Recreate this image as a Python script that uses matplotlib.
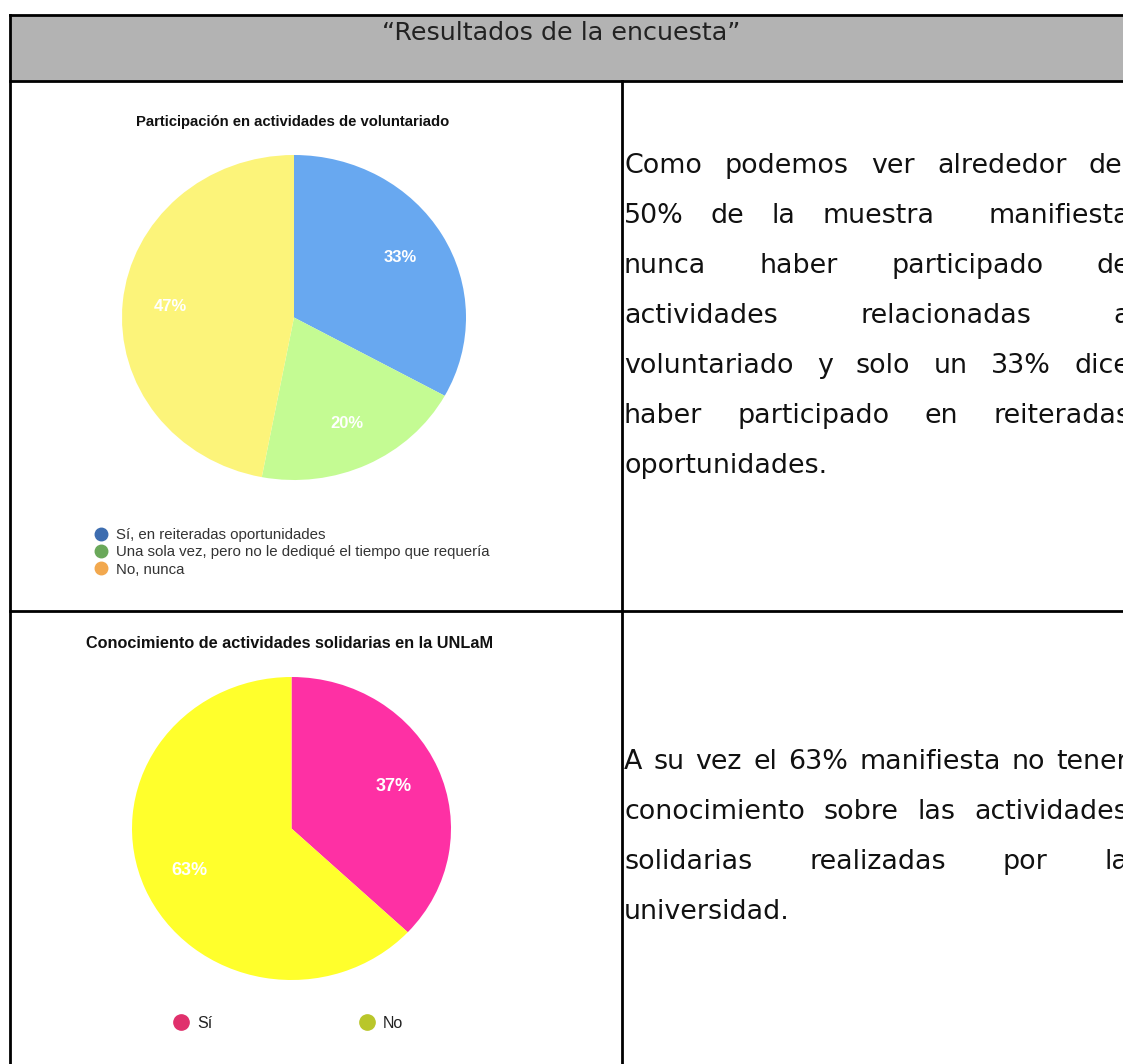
import matplotlib.pyplot as plt
from matplotlib.lines import Line2D

W, H = 1123, 1064

HEADER = "\u201cResultados de la encuesta\u201d"

# chart 1
PIE1_TITLE = "Participación en actividades de voluntariado"
PIE1_LABELS = ["Sí, en reiteradas oportunidades",
               "Una sola vez, pero no le dediqué el tiempo que requería",
               "No, nunca"]
PIE1_VALUES = [33, 20, 47]

# chart 2
PIE2_TITLE = "Conocimiento de actividades solidarias en la UNLaM"
PIE2_LABELS = ["Sí", "No"]
PIE2_VALUES = [37, 63]

TEXT1 = ["Como podemos ver alrededor del",
         "50% de la muestra  manifiesta",
         "nunca haber participado de",
         "actividades relacionadas a",
         "voluntariado y solo un 33% dice",
         "haber participado en reiteradas",
         "oportunidades."]
TEXT2 = ["A su vez el 63% manifiesta no tener",
         "conocimiento sobre las actividades",
         "solidarias realizadas por la",
         "universidad."]

PIE1_COLORS = ["#68a8f0", "#c4fb93", "#fcf47a"]
PIE1_LEG_COLORS = ["#3d6db0", "#6aa85a", "#f2a84e"]
PIE2_COLORS = ["#fe30a4", "#ffff2c"]
PIE2_LEG_COLORS = ["#e0306c", "#b9c62a"]

SANS = ["Liberation Sans", "DejaVu Sans"]


def pie_axes(fig, x0, y0, x1, y1):
    return fig.add_axes([x0 / W, 1 - y1 / H, (x1 - x0) / W, (y1 - y0) / H])


def justify(ax, renderer, lines, first_base, x0, x1, gap=50, size=19.4):
    for i, line in enumerate(lines):
        y = first_base + i * gap
        if i == len(lines) - 1:
            ax.text(x0, y, line, fontsize=size, va="baseline", ha="left",
                    color="#111111")
            continue
        words = line.split(" ")
        widths = []
        for w in words:
            if w == "":
                widths.append(0)
                continue
            t = ax.text(0, 0, w, fontsize=size)
            widths.append(t.get_window_extent(renderer).width)
            t.remove()
        space = (x1 - x0 - sum(widths)) / (len(words) - 1)
        x = x0
        for w, wd in zip(words, widths):
            if w:
                ax.text(x, y, w, fontsize=size, va="baseline", ha="left",
                        color="#111111")
            x += wd + space


fig = plt.figure(figsize=(W / 100, H / 100), dpi=100)
ax = fig.add_axes([0, 0, 1, 1])
ax.set_xlim(0, W)
ax.set_ylim(H, 0)
ax.axis("off")

# table
ax.fill_between([9.5, W + 10], 14.5, 81, color="#b3b3b3", lw=0)
lw = 2.0
ax.plot([9.5, W + 10], [14.5, 14.5], color="black", lw=lw, solid_capstyle="projecting")
ax.plot([9.5, W + 10], [81, 81], color="black", lw=lw)
ax.plot([9.5, W + 10], [611, 611], color="black", lw=lw)
ax.plot([9.5, 9.5], [14.5, H + 5], color="black", lw=lw, solid_capstyle="projecting")
ax.plot([622, 622], [81, H + 5], color="black", lw=lw)

ax.text(561, 33, HEADER, fontsize=18.3, ha="center", va="center", color="#222222")

renderer = fig.canvas.get_renderer()
justify(ax, renderer, TEXT1, 173, 624, 1130)
justify(ax, renderer, TEXT2, 769, 624, 1128)

# pie 1
ax.text(293, 122, PIE1_TITLE, fontsize=10.7, fontweight="bold", family=SANS,
        ha="center", va="center", color="#111111")
p1 = pie_axes(fig, 122, 155, 466, 480)
p1.pie(PIE1_VALUES, colors=PIE1_COLORS, startangle=90, counterclock=False,
       autopct="%d%%", pctdistance=0.72,
       textprops=dict(color="white", fontsize=12, fontweight="bold", family=SANS))
p1.set_aspect("auto")
p1.set_xlim(-1, 1)
p1.set_ylim(-1, 1)
h1 = [Line2D([], [], marker="o", ls="", markersize=9, color=c) for c in PIE1_LEG_COLORS]
ax.legend(h1, PIE1_LABELS, loc="upper left", bbox_to_anchor=(93 / W, 1 - 528 / H),
          frameon=False, labelspacing=0.22, handlelength=1.0,
          handletextpad=0.5, borderpad=0, borderaxespad=0,
          prop=dict(family=SANS, size=10.8), labelcolor="#333333")

# pie 2
ax.text(290, 643, PIE2_TITLE, fontsize=11.7, fontweight="bold", family=SANS,
        ha="center", va="center", color="#111111")
p2 = pie_axes(fig, 132, 677, 451, 980)
p2.pie(PIE2_VALUES, colors=PIE2_COLORS, startangle=90, counterclock=False,
       autopct="%d%%", pctdistance=0.7,
       textprops=dict(color="white", fontsize=13, fontweight="bold", family=SANS))
p2.set_aspect("auto")
p2.set_xlim(-1, 1)
p2.set_ylim(-1, 1)
h2 = [Line2D([], [], marker="o", ls="", markersize=11, color=c) for c in PIE2_LEG_COLORS]
fig.legend(h2, PIE2_LABELS, loc="upper left", bbox_to_anchor=(173 / W, 1 - 1016 / H),
           frameon=False, ncol=2, handlelength=1.0, handletextpad=0.5,
           columnspacing=9.2, borderpad=0, borderaxespad=0,
           prop=dict(family=SANS, size=11.5), labelcolor="#222222")

fig.savefig("out.png", dpi=100)
